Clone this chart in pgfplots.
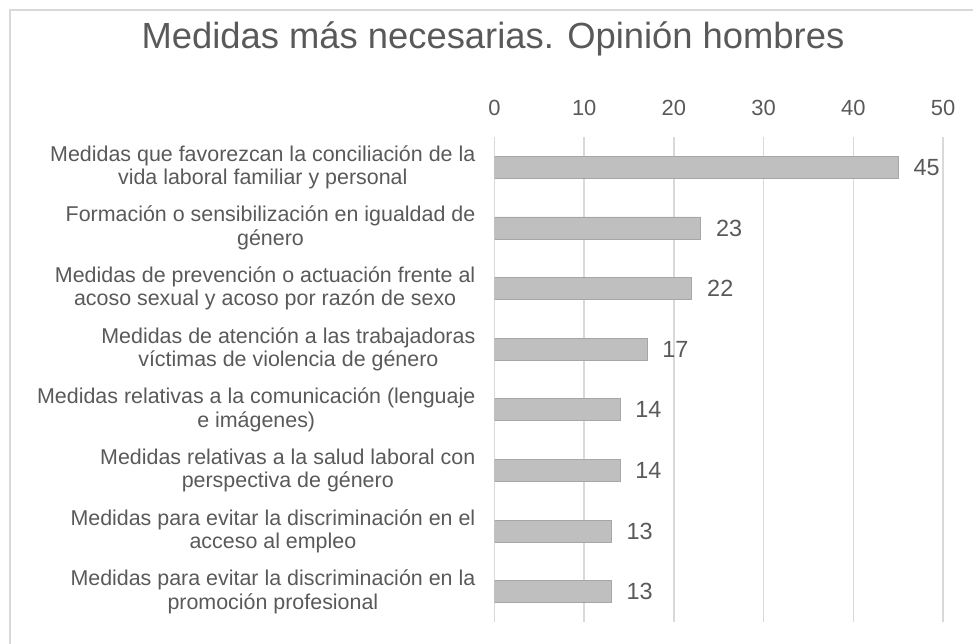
\documentclass[border=0pt]{standalone}
\usepackage{fontspec}
\setmainfont{Liberation Sans}
\usepackage{pgfplots}
\pgfplotsset{compat=1.18}
\definecolor{txt}{HTML}{595959}
\definecolor{gridc}{HTML}{D9D9D9}
\definecolor{barfill}{HTML}{BFBFBF}
\definecolor{baredge}{HTML}{A6A6A6}
\begin{document}
\begin{tikzpicture}
\path[use as bounding box] (0,0) rectangle (973bp,-644bp);
\draw[gridc, line width=2bp] (10bp,-644bp) -- (10bp,-10bp) -- (973bp,-10bp);
\node[txt, font=\fontsize{36.5}{40}\selectfont] at (493bp,-39bp) {Medidas más necesarias. Opinión hombres};
\begin{axis}[
  at={(494.5bp,-622bp)}, anchor=south west,
  scale only axis, width=448.5bp, height=485bp,
  xbar, bar width=22bp,
  xmin=0, xmax=50, xtick={0,10,...,50},
  ymin=-0.5, ymax=7.5, y dir=reverse,
  ytick={0,...,7},
  yticklabels={
    {Medidas que favorezcan la conciliación de la\\vida laboral familiar y personal},
    {Formación o sensibilización en igualdad de\\género},
    {Medidas de prevención o actuación frente al\\acoso sexual y acoso por razón de sexo},
    {Medidas de atención a las trabajadoras\\víctimas de violencia de género},
    {Medidas relativas a la comunicación (lenguaje\\e imágenes)},
    {Medidas relativas a la salud laboral con\\perspectiva de género},
    {Medidas para evitar la discriminación en el\\acceso al empleo},
    {Medidas para evitar la discriminación en la\\promoción profesional}},
  xticklabel pos=upper,
  axis line style={draw=none}, major tick length=0pt,
  xmajorgrids, grid style={draw=gridc, line width=1.5bp},
  /pgf/number format/assume math mode=true,
  xticklabel style={txt, font=\fontsize{22}{24}\selectfont, anchor=base, inner sep=0pt, yshift=22bp},
  yticklabel style={txt, font=\fontsize{21.5}{23.5}\selectfont, align=center, anchor=east, inner sep=0pt, xshift=-19bp},
  nodes near coords,
  nodes near coords style={txt, font=\fontsize{23.5}{26}\selectfont, anchor=west, inner sep=0pt, xshift=15bp},
]
\addplot[fill=barfill, draw=baredge, line width=0.8bp] coordinates {
  (45,0) (23,1) (22,2) (17,3) (14,4) (14,5) (13,6) (13,7)};
\end{axis}
\end{tikzpicture}
\end{document}
